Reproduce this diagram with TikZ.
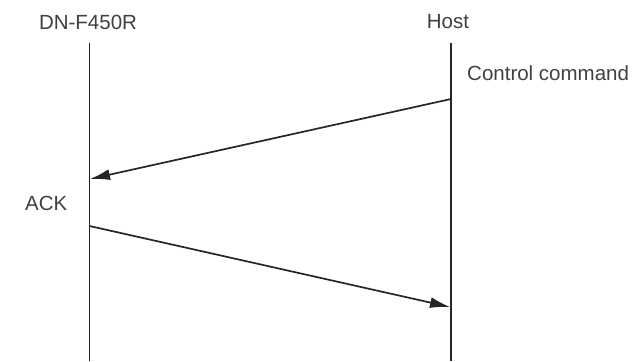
\documentclass[tikz,border=0pt]{standalone}
\usepackage{fontspec}
\setmainfont{Liberation Sans}
\usetikzlibrary{arrows.meta}
\tikzset{
	lifeline/.style={line width=1.5pt, black!85},
	message/.style={line width=1.7pt, black!85, -{Latex[length=20pt,width=11pt]}},
	label/.style={text=black!75, font=\fontsize{20.5}{24}\selectfont, inner sep=0pt}
}
\begin{document}
\begin{tikzpicture}[x=1pt,y=1pt]
	\useasboundingbox (0,0) rectangle (636,361);
	% Lifelines
	\coordinate (dnTop) at (89.5,318);
	\coordinate (dnBot) at (89.5,0);
	\coordinate (hostTop) at (451,318);
	\coordinate (hostBot) at (451,0);
	\draw[lifeline] (dnTop) -- (dnBot);
	\draw[lifeline] (hostTop) -- (hostBot);
	
	\node[label] (dnName) at (88,339) {DN-F450R};
	\node[label] (hostName) at (448,339) {Host};
	
	% Messages
	\coordinate (cmdStart) at (451,262);
	\coordinate (cmdEnd) at (90,182);
	\coordinate (ackStart) at (89.5,135);
	\coordinate (ackEnd) at (450,54);
	\draw[message] (cmdStart) -- (cmdEnd);
	\draw[message] (ackStart) -- (ackEnd);
	
	\node[label, anchor=west] (cmdText) at (467,288) {Control command};
	\node[label, anchor=west] (ackText) at (25,158) {ACK};
\end{tikzpicture}
\end{document}
